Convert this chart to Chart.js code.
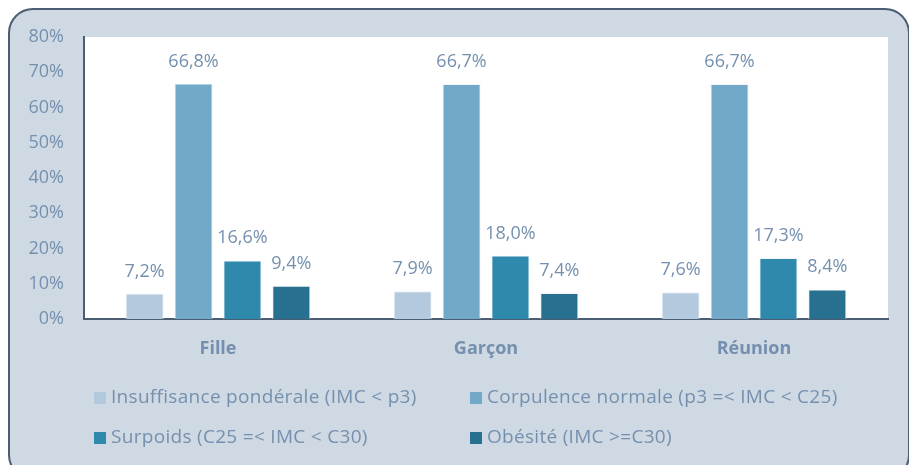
<!DOCTYPE html>
<html lang="fr">
<head>
<meta charset="utf-8">
<script src="https://cdn.jsdelivr.net/npm/chart.js@4.4.1/dist/chart.umd.min.js"></script>
<style>
    html, body { margin: 0; padding: 0; background: #ffffff; }
    canvas { display: block; }
</style>
</head>
<body>
<canvas id="imcChart" width="909" height="465"></canvas>
<script>
// Categories and series
const categories = ["Fille", "Garçon", "Réunion"];
const seriesLabels = [
    "Insuffisance pondérale (IMC < p3)",
    "Corpulence normale (p3 =< IMC < C25)",
    "Surpoids (C25 =< IMC < C30)",
    "Obésité (IMC >=C30)"
];
const insuffisance = [7.2, 7.9, 7.6];
const corpulenceNormale = [66.8, 66.7, 66.7];
const surpoids = [16.6, 18.0, 17.3];
const obesite = [9.4, 7.4, 8.4];
const yTicks = [0, 10, 20, 30, 40, 50, 60, 70, 80];

const colors = ["#b3cade", "#72a9c8", "#2e89ad", "#27708f"];
const textColor = "#7590ae";
const lineColor = "#4b5d72";
const fontFamily = "'Open Sans', sans-serif";

function fmt(v) {
    return v.toFixed(1).replace(".", ",") + "%";
}

// Card background with rounded border (runs slightly past the bottom/right edges)
const cardPlugin = {
    id: "card",
    beforeDraw(chart) {
        const c = chart.ctx;
        c.save();
        c.beginPath();
        c.roundRect(9, 9, 900, 470, 24);
        c.fillStyle = "#cfd9e3";
        c.fill();
        c.lineWidth = 2;
        c.strokeStyle = lineColor;
        c.stroke();
        // white plot area
        const a = chart.chartArea;
        c.fillStyle = "#ffffff";
        c.fillRect(a.left, a.top, a.right - a.left, a.bottom - a.top);
        c.restore();
    }
};

// Value labels above bars
const valueLabels = {
    id: "valueLabels",
    afterDatasetsDraw(chart) {
        const c = chart.ctx;
        c.save();
        c.font = "18px " + fontFamily;
        c.fillStyle = textColor;
        c.textAlign = "center";
        c.textBaseline = "alphabetic";
        chart.data.datasets.forEach((ds, i) => {
            chart.getDatasetMeta(i).data.forEach((bar, j) => {
                c.fillText(fmt(ds.data[j]), bar.x, bar.y - 17);
            });
        });
        c.restore();
    }
};

// Legend in two fixed columns
const gridLegend = {
    id: "gridLegend",
    afterDraw(chart) {
        const c = chart.ctx;
        const colX = [94, 470];
        const rowY = [398, 438];
        c.save();
        c.font = "19px " + fontFamily;
        c.letterSpacing = "0.3px";
        c.textBaseline = "middle";
        c.textAlign = "left";
        chart.data.datasets.forEach((ds, i) => {
            const x = colX[i % 2];
            const y = rowY[Math.floor(i / 2)];
            c.fillStyle = ds.backgroundColor;
            c.fillRect(x, y - 6, 12, 12);
            c.fillStyle = textColor;
            c.fillText(ds.label, x + 17, y);
        });
        c.restore();
    }
};

const ctx = document.getElementById("imcChart").getContext("2d");
const seriesData = [insuffisance, corpulenceNormale, surpoids, obesite];

new Chart(ctx, {
    type: "bar",
    data: {
        labels: categories,
        datasets: seriesData.map((d, i) => ({
            label: seriesLabels[i],
            data: d,
            backgroundColor: colors[i],
            borderColor: "rgba(235,242,247,0.8)",
            borderWidth: 1,
            categoryPercentage: 0.73,
            barPercentage: 0.78
        }))
    },
    options: {
        responsive: false,
        animation: false,
        layout: { padding: { left: 0, top: 37, right: 21, bottom: 0 } },
        plugins: {
            legend: { display: false },
            tooltip: { enabled: false }
        },
        scales: {
            x: {
                grid: { display: false, drawTicks: false },
                border: { display: true, color: lineColor, width: 2 },
                ticks: {
                    color: textColor,
                    padding: 19,
                    font: { family: fontFamily, size: 18, weight: "bold" }
                },
                afterFit(scale) { scale.height = 146; }
            },
            y: {
                min: 0,
                max: 80,
                grid: { display: false, drawTicks: false },
                border: { display: true, color: lineColor, width: 2 },
                afterBuildTicks(scale) {
                    scale.ticks = yTicks.map(v => ({ value: v }));
                },
                ticks: {
                    color: textColor,
                    padding: 20,
                    font: { family: fontFamily, size: 18 },
                    callback: v => v + "%"
                },
                afterFit(scale) { scale.width = 84; }
            }
        }
    },
    plugins: [cardPlugin, valueLabels, gridLegend]
});
</script>
</body>
</html>
